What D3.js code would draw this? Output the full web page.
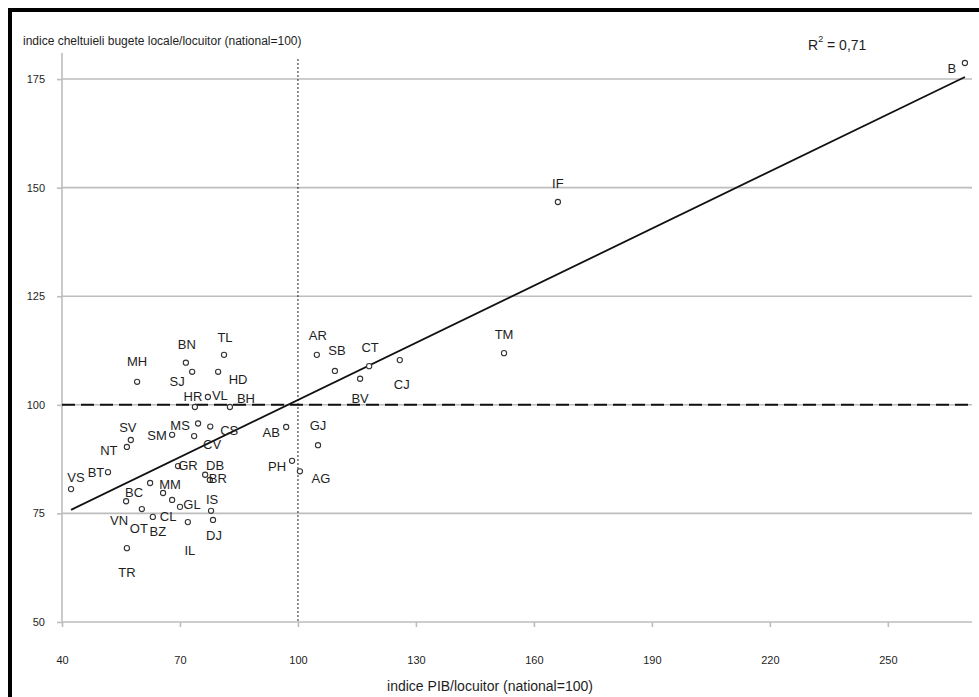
<!DOCTYPE html>
<html>
<head>
<meta charset="utf-8">
<script src="https://cdn.jsdelivr.net/npm/d3@7"></script>
<style>
  html, body { margin: 0; padding: 0; background: #fff; }
  svg { display: block; font-family: "Liberation Sans", Arial, sans-serif; }
</style>
</head>
<body>
<svg id="chart" width="979" height="697"></svg>
<script>
// county codes, GDP per capita index (x) and local budget spending index (y)
const codes = ["B", "IF", "TM", "CJ", "CT", "BV", "SB", "AR", "GJ", "AG", "PH", "AB",
  "BH", "HR", "VL", "HD", "TL", "BN", "SJ", "MH", "SV", "NT", "VS", "BT",
  "SM", "MS", "CS", "CV", "GR", "DB", "BR", "IS", "GL", "IL", "DJ", "MM",
  "CL", "BC", "VN", "OT", "BZ", "TR"];
const pib = [269.6, 166.1, 152.4, 125.9, 118.1, 115.8, 109.4, 104.8, 105.1, 100.5, 98.5, 97.0,
  82.7, 73.8, 77.1, 79.7, 81.2, 71.5, 73.1, 59.1, 57.5, 56.5, 42.3, 51.7,
  68.0, 74.6, 77.7, 73.6, 69.5, 76.4, 77.6, 77.9, 70.0, 72.0, 78.4, 65.7,
  68.0, 62.4, 56.3, 60.3, 63.1, 56.5];
const chelt = [178.7, 146.7, 111.9, 110.3, 108.9, 106.0, 107.8, 111.5, 90.7, 84.7, 87.1, 94.9,
  99.5, 99.5, 101.8, 107.6, 111.5, 109.7, 107.6, 105.3, 91.9, 90.3, 80.6, 84.5,
  93.1, 95.7, 95.0, 92.8, 85.9, 83.9, 82.7, 75.6, 76.5, 73.0, 73.5, 79.7,
  78.1, 82.0, 77.8, 76.0, 74.2, 67.0];

const xTicks = [40, 70, 100, 130, 160, 190, 220, 250];
const yTicks = [50, 75, 100, 125, 150, 175];
const rSquared = "0,71";

// where each label sits relative to its marker (layout only)
const labelOffset = {
  B: [-13, 6], IF: [0, -18], TM: [0, -19], CJ: [2, 24], CT: [1, -19], BV: [0, 20],
  SB: [2, -20], AR: [1, -19], GJ: [0, -20], AG: [21, 7], PH: [-15, 6], AB: [-15, 6],
  BH: [16, -8], HR: [-2, -10], VL: [12, -2], HD: [20, 8], TL: [1, -17], BN: [1, -18],
  SJ: [-15, 10], MH: [0, -20], SV: [-3, -13], NT: [-18, 4], VS: [5, -12], BT: [-12, 0],
  SM: [-15, 1], MS: [-18, 2], CS: [19, 4], CV: [18, 8], GR: [10, -1], DB: [10, -9],
  BR: [8, -1], IS: [1, -11], GL: [12, -2], IL: [2, 28], DJ: [1, 16], MM: [7, -8],
  CL: [-4, 17], BC: [-16, 9], VN: [-7, 19], OT: [-3, 19], BZ: [5, 15], TR: [0, 24]
};

const svg = d3.select("#chart");
const margin = { left: 62, right: 972, top: 53, bottom: 622 };
const gridColor = "#bdbdbd";
const textColor = "#1e1e1e";

const x = d3.scaleLinear().domain([40, 271.4]).range([margin.left, margin.right]);
const y = d3.scaleLinear().domain([50, 181]).range([margin.bottom, margin.top]);

const points = codes.map((c, i) => ({ code: c, x: pib[i], y: chelt[i] }));

// frame
svg.append("rect").attr("x", 8).attr("y", 8).attr("width", 4).attr("height", 689).attr("fill", "#000");
svg.append("rect").attr("x", 8).attr("y", 8).attr("width", 971).attr("height", 4).attr("fill", "#000");

// horizontal gridlines
svg.append("g")
  .selectAll("line")
  .data(yTicks)
  .join("line")
  .attr("x1", margin.left)
  .attr("x2", margin.right)
  .attr("y1", (d) => y(d))
  .attr("y2", (d) => y(d))
  .attr("stroke", gridColor)
  .attr("stroke-width", 1.6);

// y axis line + ticks
svg.append("line")
  .attr("x1", margin.left).attr("x2", margin.left)
  .attr("y1", margin.top).attr("y2", margin.bottom)
  .attr("stroke", gridColor).attr("stroke-width", 1.6);

const styleAxis = (g) => {
  g.select(".domain").remove();
  g.selectAll(".tick line").attr("stroke", gridColor).attr("stroke-width", 1.6);
  g.selectAll(".tick text")
    .attr("font-family", "Liberation Sans, Arial, sans-serif")
    .attr("font-size", 11)
    .attr("fill", textColor);
};

svg.append("g")
  .attr("transform", `translate(${margin.left},0)`)
  .call(d3.axisLeft(y).tickValues(yTicks).tickSize(5).tickPadding(12))
  .call(styleAxis);

svg.append("g")
  .attr("transform", `translate(0,${margin.bottom})`)
  .call(d3.axisBottom(x).tickValues(xTicks).tickSize(5).tickPadding(29))
  .call(styleAxis);

// reference lines at national = 100
svg.append("line")
  .attr("x1", x(100)).attr("x2", x(100))
  .attr("y1", margin.top + 6).attr("y2", margin.bottom)
  .attr("stroke", "#222").attr("stroke-width", 1)
  .attr("stroke-dasharray", "2,2");

svg.append("line")
  .attr("x1", margin.left).attr("x2", margin.right)
  .attr("y1", y(100)).attr("y2", y(100))
  .attr("stroke", "#111").attr("stroke-width", 2)
  .attr("stroke-dasharray", "13,6");

// least squares trend line
const mx = d3.mean(points, (d) => d.x);
const my = d3.mean(points, (d) => d.y);
const slope = d3.sum(points, (d) => (d.x - mx) * (d.y - my)) /
  d3.sum(points, (d) => (d.x - mx) ** 2);
const intercept = my - slope * mx;
const [x0, x1] = d3.extent(points, (d) => d.x);
svg.append("line")
  .attr("x1", x(x0)).attr("y1", y(intercept + slope * x0))
  .attr("x2", x(x1)).attr("y2", y(intercept + slope * x1))
  .attr("stroke", "#111").attr("stroke-width", 1.8);

// markers
svg.append("g")
  .selectAll("circle")
  .data(points)
  .join("circle")
  .attr("cx", (d) => x(d.x))
  .attr("cy", (d) => y(d.y))
  .attr("r", 2.6)
  .attr("fill", "#fff")
  .attr("stroke", "#333")
  .attr("stroke-width", 1.1);

// point labels
svg.append("g")
  .selectAll("text")
  .data(points)
  .join("text")
  .attr("x", (d) => x(d.x) + labelOffset[d.code][0])
  .attr("y", (d) => y(d.y) + labelOffset[d.code][1])
  .attr("text-anchor", "middle")
  .attr("dominant-baseline", "central")
  .attr("font-size", 13)
  .attr("fill", textColor)
  .text((d) => d.code);

// titles
svg.append("text")
  .attr("x", 23).attr("y", 45)
  .attr("font-size", 12).attr("fill", textColor)
  .text("indice cheltuieli bugete locale/locuitor (national=100)");

const r2 = svg.append("text")
  .attr("x", 808).attr("y", 50)
  .attr("font-size", 14).attr("fill", textColor);
r2.append("tspan").text("R");
r2.append("tspan").attr("dy", -8).attr("font-size", 9).text("2");
r2.append("tspan").attr("dy", 8).text(" = " + rSquared);

svg.append("text")
  .attr("x", 490).attr("y", 691)
  .attr("text-anchor", "middle")
  .attr("font-size", 14).attr("fill", textColor)
  .text("indice PIB/locuitor (national=100)");
</script>
</body>
</html>
